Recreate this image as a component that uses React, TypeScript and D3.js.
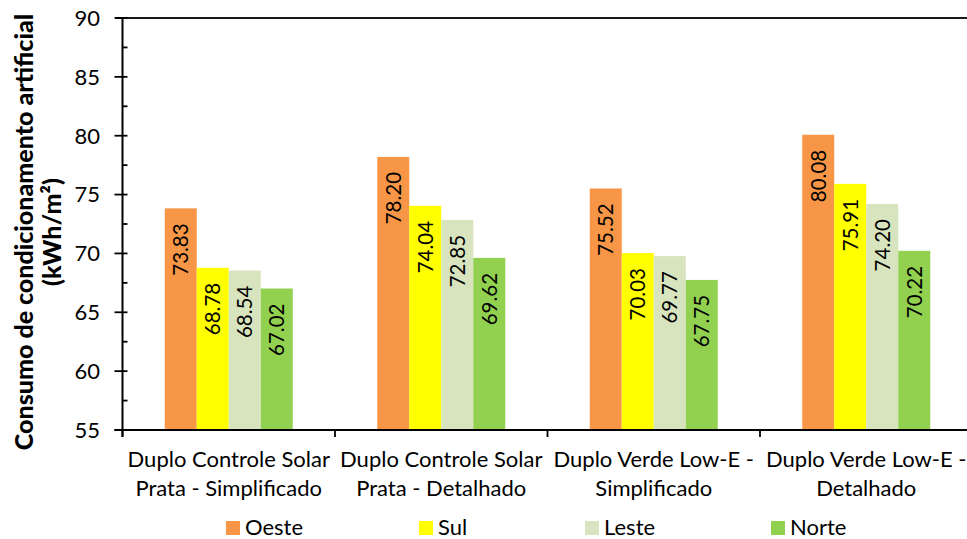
import React from "react";
import * as d3 from "d3";

// Consumo de condicionamento artificial por tipo de vidro e orientação
const categoryLines: string[][] = [
  ["Duplo Controle Solar", "Prata - Simplificado"],
  ["Duplo Controle Solar", "Prata - Detalhado"],
  ["Duplo Verde Low-E -", "Simplificado"],
  ["Duplo Verde Low-E -", "Detalhado"],
];
const seriesNames = ["Oeste", "Sul", "Leste", "Norte"];
const oeste = [73.83, 78.2, 75.52, 80.08];
const sul = [68.78, 74.04, 70.03, 75.91];
const leste = [68.54, 72.85, 69.77, 74.2];
const norte = [67.02, 69.62, 67.75, 70.22];
const seriesColors = ["#F79646", "#FFFF00", "#D7E4BD", "#92D050"];
const yTicks = [55, 60, 65, 70, 75, 80, 85, 90];
const yTitle = ["Consumo de condicionamento artificial", "(kWh/m²)"];

const W = 967;
const H = 539;
const FONT = "Lato, 'Open Sans', sans-serif";

export default function App() {
  const seriesValues = [oeste, sul, leste, norte];
  const plotLeft = 122.5;
  const plotRight = 972.5;
  const plotTop = 18;
  const plotBottom = 430;

  const y = d3.scaleLinear().domain([55, 90]).range([plotBottom, plotTop]);
  const x0 = d3
    .scaleBand<number>()
    .domain(categoryLines.map((_, i) => i))
    .range([plotLeft, plotRight])
    .padding(0);
  const bw = x0.bandwidth();
  const groupPad = (bw - bw * 0.6024) / 2;
  const x1 = d3
    .scaleBand<string>()
    .domain(seriesNames)
    .range([groupPad, bw - groupPad])
    .padding(0);

  const minorTicks = d3.range(57.5, 90, 5);
  const catTicks = d3.range(categoryLines.length + 1).map((i) => plotLeft + i * bw);

  // legend entry offsets along the bottom row
  const legendX = [226, 419, 585, 771];

  return (
    <svg
      width={W}
      height={H}
      style={{ position: "absolute", left: 0, top: 0, background: "#fff" }}
      fontFamily={FONT}
    >
      {/* top border line at max value */}
      <line x1={plotLeft - 7} x2={W} y1={y(90)} y2={y(90)} stroke="#1a1a1a" strokeWidth={1.8} />

      {/* bars */}
      {categoryLines.map((_, ci) => (
        <g key={ci} transform={`translate(${x0(ci)},0)`}>
          {seriesNames.map((s, si) => {
            const v = seriesValues[si][ci];
            const bx = x1(s)!;
            const by = y(v);
            return (
              <g key={s}>
                <rect
                  x={bx}
                  y={by}
                  width={x1.bandwidth()}
                  height={plotBottom - by}
                  fill={seriesColors[si]}
                />
                <text
                  transform={`translate(${bx + x1.bandwidth() / 2},${by + 15}) rotate(-90)`}
                  textAnchor="end"
                  dy="0.36em"
                  fontSize={20.5}
                  fill="#000"
                >
                  {v.toFixed(2)}
                </text>
              </g>
            );
          })}
        </g>
      ))}

      {/* y axis */}
      <line x1={plotLeft} x2={plotLeft} y1={plotTop} y2={plotBottom + 7} stroke="#000" strokeWidth={2} />
      {yTicks.map((t) => (
        <g key={t}>
          <line x1={plotLeft - 8} x2={plotLeft + 5} y1={y(t)} y2={y(t)} stroke="#000" strokeWidth={1.8} />
          <text x={100} y={y(t)} dy="0.36em" textAnchor="end" fontSize={22} fill="#000">
            {t}
          </text>
        </g>
      ))}
      {minorTicks.map((t) => (
        <line key={t} x1={plotLeft} x2={plotLeft + 5} y1={y(t)} y2={y(t)} stroke="#000" strokeWidth={1.8} />
      ))}

      {/* x axis */}
      <line x1={plotLeft - 8} x2={W} y1={plotBottom} y2={plotBottom} stroke="#000" strokeWidth={2} />
      {catTicks.map((cx, i) => (
        <line key={i} x1={cx} x2={cx} y1={plotBottom} y2={plotBottom + 7} stroke="#000" strokeWidth={1.8} />
      ))}
      {categoryLines.map((lines, ci) => (
        <text key={ci} textAnchor="middle" fontSize={22} fill="#000">
          {lines.map((ln, li) => (
            <tspan key={li} x={x0(ci)! + bw / 2} y={467 + li * 29}>
              {ln}
            </tspan>
          ))}
        </text>
      ))}

      {/* y title */}
      <text
        transform={`translate(33,232) rotate(-90)`}
        textAnchor="middle"
        fontSize={25}
        fontWeight={900}
        fill="#000"
      >
        <tspan x={0} y={0}>{yTitle[0]}</tspan>
        <tspan x={0} y={28}>{yTitle[1]}</tspan>
      </text>

      {/* legend */}
      {seriesNames.map((s, i) => (
        <g key={s} transform={`translate(${legendX[i]},0)`}>
          <rect x={0} y={521} width={14} height={14} fill={seriesColors[i]} />
          <text x={19} y={535} fontSize={22} fill="#000">
            {s}
          </text>
        </g>
      ))}
    </svg>
  );
}
